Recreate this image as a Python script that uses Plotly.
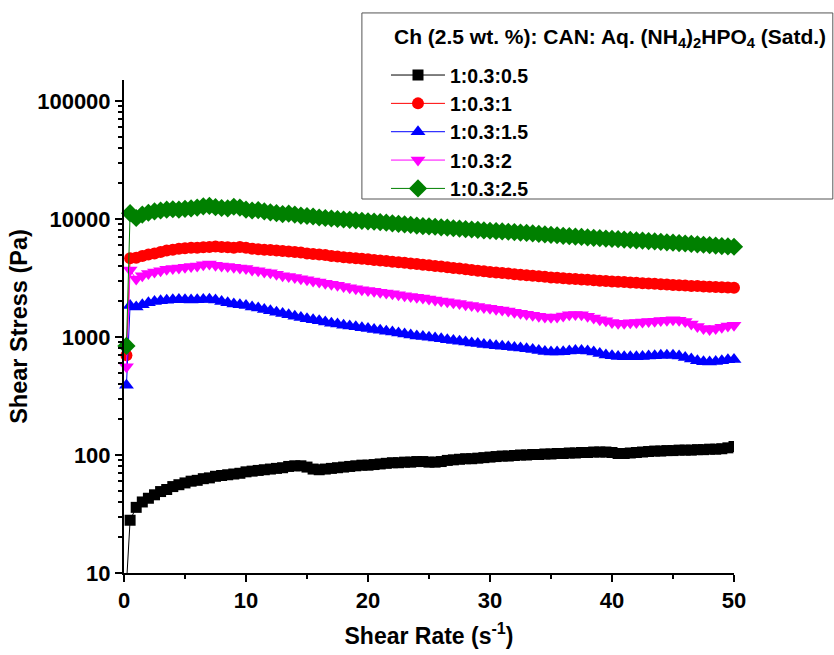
import plotly.graph_objects as go

shear_rate = [0.2, 0.5, 1.0, 1.5, 2.0, 2.5, 3.0, 3.5, 4.0, 4.5, 5.0,
              5.5, 6.0, 6.5, 7.0, 7.5, 8.0, 8.5, 9.0, 9.5, 10.0,
              10.5, 11.0, 11.5, 12.0, 12.5, 13.0, 13.5, 14.0, 14.5, 15.0,
              15.5, 16.0, 16.5, 17.0, 17.5, 18.0, 18.5, 19.0, 19.5, 20.0,
              20.5, 21.0, 21.5, 22.0, 22.5, 23.0, 23.5, 24.0, 24.5, 25.0,
              25.5, 26.0, 26.5, 27.0, 27.5, 28.0, 28.5, 29.0, 29.5, 30.0,
              30.5, 31.0, 31.5, 32.0, 32.5, 33.0, 33.5, 34.0, 34.5, 35.0,
              35.5, 36.0, 36.5, 37.0, 37.5, 38.0, 38.5, 39.0, 39.5, 40.0,
              40.5, 41.0, 41.5, 42.0, 42.5, 43.0, 43.5, 44.0, 44.5, 45.0,
              45.5, 46.0, 46.5, 47.0, 47.5, 48.0, 48.5, 49.0, 49.5, 50.0]

stress_0_5 = [8,
              28, 36, 40, 43, 46, 49, 51, 54, 56, 58,
              60, 61, 63, 64, 66, 67, 68, 69, 70, 72,
              73, 74, 75, 76, 77, 78, 80, 81, 81, 79,
              76, 75, 76, 77, 78, 79, 80, 81, 82, 82,
              83, 84, 85, 86, 86, 87, 87, 88, 88, 87,
              87, 88, 90, 91, 92, 93, 93, 94, 95, 96,
              97, 98, 98, 99, 100, 100, 101, 101, 102, 102,
              103, 103, 104, 104, 105, 105, 106, 106, 106, 105,
              103, 103, 104, 105, 106, 107, 108, 108, 109, 109,
              110, 110, 110, 111, 111, 112, 112, 113, 115, 118]

stress_1 = [700,
            4650, 4700, 4850, 5000, 5100, 5250, 5400, 5500, 5600, 5650,
            5700, 5700, 5750, 5800, 5850, 5800, 5750, 5700, 5800, 5700,
            5600, 5550, 5500, 5450, 5400, 5350, 5300, 5250, 5200, 5100,
            5050, 5000, 4950, 4850, 4800, 4750, 4700, 4650, 4600, 4550,
            4500, 4450, 4400, 4350, 4300, 4250, 4200, 4150, 4100, 4050,
            4000, 3950, 3900, 3850, 3800, 3750, 3700, 3650, 3600, 3550,
            3520, 3480, 3450, 3400, 3370, 3330, 3300, 3270, 3240, 3200,
            3180, 3150, 3120, 3100, 3070, 3050, 3020, 3000, 2980, 2960,
            2940, 2920, 2900, 2880, 2860, 2840, 2820, 2800, 2780, 2760,
            2750, 2730, 2710, 2700, 2680, 2670, 2650, 2640, 2630, 2620]

stress_1_5 = [390,
              1850, 1800, 1880, 1950, 2000, 2030, 2050, 2070, 2080, 2070,
              2060, 2070, 2080, 2090, 2060, 2000, 1950, 1900, 1880, 1850,
              1800, 1760, 1710, 1670, 1620, 1580, 1540, 1500, 1460, 1430,
              1400, 1370, 1340, 1310, 1290, 1260, 1240, 1220, 1200, 1180,
              1160, 1140, 1120, 1100, 1080, 1060, 1040, 1020, 1010, 995,
              980, 965, 950, 935, 920, 905, 890, 880, 865, 855,
              845, 835, 825, 815, 805, 795, 785, 770, 755, 745,
              745, 750, 760, 770, 770, 760, 745, 725, 705, 695,
              685, 680, 680, 680, 685, 690, 695, 700, 700, 700,
              690, 670, 650, 630, 618, 615, 620, 630, 640, 645]

stress_2 = [560,
            3700, 3100, 3300, 3450, 3550, 3650, 3750, 3800, 3850, 3900,
            3950, 4000, 4100, 4150, 4050, 4000, 3950, 3900, 3850, 3800,
            3700, 3650, 3550, 3500, 3400, 3300, 3250, 3200, 3120, 3050,
            2980, 2920, 2860, 2800, 2740, 2680, 2620, 2570, 2520, 2480,
            2440, 2400, 2360, 2320, 2280, 2240, 2200, 2170, 2140, 2100,
            2060, 2020, 1990, 1950, 1920, 1880, 1850, 1810, 1780, 1750,
            1720, 1690, 1660, 1620, 1590, 1560, 1530, 1500, 1480, 1470,
            1480, 1510, 1540, 1550, 1540, 1500, 1450, 1400, 1370, 1330,
            1310, 1310, 1320, 1330, 1340, 1350, 1360, 1380, 1390, 1400,
            1390, 1350, 1290, 1230, 1180, 1160, 1180, 1210, 1240, 1260]

stress_2_5 = [840,
              11200, 10200, 10900, 11300, 11600, 11800, 12000, 12100, 12000, 12200,
              12300, 12500, 12800, 12900, 12600, 12400, 12300, 12700, 12500, 12000,
              11800, 11900, 11600, 11400, 11200, 11000, 11100, 10900, 10700, 10600,
              10500, 10300, 10200, 10100, 10000, 9900, 9850, 9750, 9650, 9550,
              9500, 9400, 9300, 9200, 9100, 9000, 8900, 8800, 8700, 8650,
              8600, 8500, 8450, 8350, 8300, 8200, 8150, 8100, 8000, 7950,
              7900, 7850, 7800, 7750, 7680, 7620, 7550, 7480, 7400, 7350,
              7280, 7200, 7150, 7100, 7050, 6980, 6920, 6880, 6830, 6780,
              6750, 6700, 6650, 6600, 6560, 6500, 6460, 6400, 6350, 6300,
              6250, 6200, 6150, 6100, 6050, 6000, 5950, 5900, 5860, 5820]

series_names = ["1:0.3:0.5", "1:0.3:1", "1:0.3:1.5", "1:0.3:2", "1:0.3:2.5"]
series_values = [stress_0_5, stress_1, stress_1_5, stress_2, stress_2_5]
series_colors = ["#000000", "#FF0000", "#0000FF", "#FF00FF", "#008000"]
series_symbols = ["square", "circle", "triangle-up", "triangle-down", "diamond"]
series_sizes = [11, 12, 13, 13, 14]

y_tickvals = [10, 100, 1000, 10000, 100000]
y_ticktext = ["10", "100", "1000", "10000", "100000"]

legend_title = "Ch (2.5 wt. %): CAN: Aq. (NH<sub>4</sub>)<sub>2</sub>HPO<sub>4</sub> (Satd.)"

FONT = "Liberation Sans, Arial, Helvetica, sans-serif"

fig = go.Figure()
for i, (name, vals, col, sym, sz) in enumerate(zip(series_names, series_values,
                                                   series_colors, series_symbols, series_sizes)):
    fig.add_trace(go.Scatter(
        x=shear_rate, y=vals, name=name, mode="lines+markers",
        line=dict(color=col, width=1),
        marker=dict(symbol=sym, size=sz, color=col, line=dict(width=0)),
        cliponaxis=(i == 0),
        legendgroup=f"g{i}",
    ))

# legend frame
fig.add_shape(type="rect", xref="paper", yref="paper",
              x0=0.390, x1=1.162, y0=0.7586, y1=1.136,
              line=dict(color="#555555", width=1), fillcolor="rgba(0,0,0,0)", layer="above")
# legend title
fig.add_annotation(xref="paper", yref="paper", x=0.439, y=1.085,
                   xanchor="left", yanchor="middle", showarrow=False,
                   text=legend_title,
                   font=dict(family=FONT, size=21, color="black", weight="bold"))

fig.update_layout(
    width=834, height=655,
    margin=dict(l=124, r=100, t=80, b=82, autoexpand=False),
    paper_bgcolor="white", plot_bgcolor="white",
    font=dict(family=FONT, size=21, color="black", weight="bold"),
    showlegend=True,
    legend=dict(
        x=0.4295, y=1.049, xanchor="left", yanchor="top",
        bgcolor="rgba(0,0,0,0)", borderwidth=0,
        font=dict(family=FONT, size=19.5, color="black", weight="bold"),
        tracegroupgap=0,
        itemwidth=54,
    ),
    xaxis=dict(
        range=[0, 50], dtick=10, tick0=0,
        showline=True, linecolor="black", linewidth=2,
        ticks="outside", ticklen=7, tickwidth=2, tickcolor="black",
        minor=dict(dtick=5, ticks="outside", ticklen=4, tickwidth=2, tickcolor="black"),
        showgrid=False, zeroline=False,
        tickfont=dict(family=FONT, size=22, weight="bold"),
        title=dict(text="Shear Rate (s<sup>-1</sup>)", standoff=15,
                   font=dict(family=FONT, size=23, weight="bold")),
    ),
    yaxis=dict(
        type="log", range=[1, 5.178],
        tickmode="array", tickvals=y_tickvals, ticktext=y_ticktext,
        showline=True, linecolor="black", linewidth=2,
        ticks="outside", ticklen=7, tickwidth=2, tickcolor="black",
        minor=dict(dtick="D1", ticks="outside", ticklen=4, tickwidth=1.5, tickcolor="black", showgrid=False),
        showgrid=False, zeroline=False,
        tickfont=dict(family=FONT, size=22, weight="bold"),
        title=dict(text="Shear Stress (Pa)", standoff=3,
                   font=dict(family=FONT, size=23.5, weight="bold")),
    ),
)

fig.write_html("out.html")
